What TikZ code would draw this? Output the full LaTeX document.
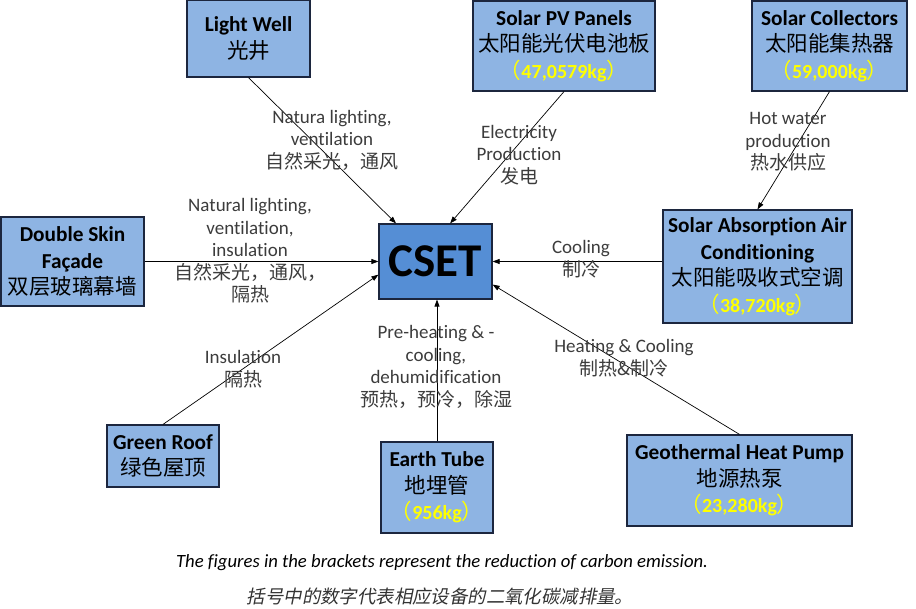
\documentclass[tikz,border=0pt]{standalone}
\usepackage{fontspec}
\setmainfont{Carlito}[Ligatures=NoCommon]
\newfontfamily\cjk{Noto Sans CJK SC}
\newfontfamily\cjkslant{Noto Sans CJK SC}[FakeSlant=0.2]
\usetikzlibrary{arrows.meta}
\definecolor{boxblue}{RGB}{142,180,227}
\definecolor{hubblue}{RGB}{85,142,213}
\definecolor{boxline}{RGB}{28,38,62}
\definecolor{labelgray}{RGB}{60,60,60}
\definecolor{cutyellow}{RGB}{255,255,0}
\newcommand{\zhbox}[1]{{\cjk\fontsize{21.5}{26.5}\selectfont #1}}
\newcommand{\zhlab}[1]{{\cjk\fontsize{19}{22.5}\selectfont #1}}
\newcommand{\reduction}[1]{{\color{cutyellow}\zhbox{（}{\fontsize{20}{26.5}\selectfont\bfseries #1}\zhbox{）}}}
\tikzset{
  techbox/.style={draw=boxline, fill=boxblue, line width=1.2pt, align=center,
    inner sep=0pt, font=\fontsize{21.3}{26.5}\selectfont},
  hubbox/.style={draw=boxline, fill=hubblue, line width=1.2pt, inner sep=0pt,
    font=\fontsize{47}{47}\selectfont\bfseries},
  flowlabel/.style={text=labelgray, align=center, font=\fontsize{19}{22.5}\selectfont},
  flow/.style={-{Triangle[length=7pt,width=5pt]}, line width=0.7pt, black}
}

\begin{document}
\begin{tikzpicture}[x=1pt, y=-1pt]
\useasboundingbox (0,0) rectangle (916,609);
% Centre
\node[hubbox, minimum width=113pt, minimum height=75pt] (cset) at (435.5,261.5) {CSET};
% Technologies
\node[techbox, minimum width=123pt, minimum height=77pt] (lw) at (248.5,38.5)
  {\textbf{Light Well}\\\zhbox{光井}};
\node[techbox, minimum width=182pt, minimum height=90pt] (pv) at (564,46)
  {\textbf{Solar PV Panels}\\\zhbox{太阳能光伏电池板}\\\reduction{47,0579kg}};
\node[techbox, minimum width=155pt, minimum height=90pt] (sc) at (829.5,46)
  {\textbf{Solar Collectors}\\\zhbox{太阳能集热器}\\\reduction{59,000kg}};
\node[techbox, minimum width=143pt, minimum height=89pt] (dsf) at (72.5,261.5)
  {\textbf{Double Skin}\\\textbf{Façade}\\\zhbox{双层玻璃幕墙}};
\node[techbox, minimum width=189pt, minimum height=113pt] (sa) at (757.5,266.5)
  {\textbf{Solar Absorption Air}\\\textbf{Conditioning}\\\zhbox{太阳能吸收式空调}\\\reduction{38,720kg}};
\node[techbox, minimum width=112pt, minimum height=62pt] (gr) at (163,456)
  {\textbf{Green Roof}\\\zhbox{绿色屋顶}};
\node[techbox, minimum width=112pt, minimum height=91pt] (et) at (437,487.5)
  {\textbf{Earth Tube}\\\zhbox{地埋管}\\\reduction{956kg}};
\node[techbox, minimum width=225pt, minimum height=91pt] (gh) at (739.5,480.5)
  {\textbf{Geothermal Heat Pump}\\\zhbox{地源热泵}\\\reduction{23,280kg}};
% Connectors
\foreach \src/\dst in {lw.south/cset.136, pv.south/cset.69, dsf.east/cset.west,
    gr.north/cset.193, gh.north/cset.338}
  \draw[flow] (\src) -- (\dst);
\draw[flow] (sc.south) -- (sa.north);
\draw[flow] (sa.west |- cset.east) -- (cset.east);
\draw[flow] (et.north) -- (et.north |- cset.south);
% Labels
\node[flowlabel] (lwlab) at (332,140) {Natura lighting,\\ventilation\\\zhlab{自然采光，通风}};
\node[flowlabel] (dsflab) at (250,251) {Natural lighting,\\ventilation,\\insulation\\\zhlab{自然采光，通风，}\\\zhlab{隔热}};
\node[flowlabel] (pvlab) at (519,155) {Electricity\\Production\\\zhlab{发电}};
\node[flowlabel] (sclab) at (788,142) {Hot water\\production\\\zhlab{热水供应}};
\node[flowlabel] (salab) at (581,259) {Cooling\\\zhlab{制冷}};
\node[flowlabel] (grlab) at (243,369) {Insulation\\\zhlab{隔热}};
\node[flowlabel] (etlab) at (436,367) {Pre-heating \& -\\cooling,\\dehumidification\\\zhlab{预热，预冷，除湿}};
\node[flowlabel] (ghlab) at (624,358) {Heating \& Cooling\\\zhlab{制热\&制冷}};
% Note
\node[font=\fontsize{18.7}{22}\selectfont\itshape] (note) at (442,563)
  {The figures in the brackets represent the reduction of carbon emission.};
\node[text=black!80] (notezh) at (440,596)
  {{\cjkslant\fontsize{18.4}{22}\selectfont 括号中的数字代表相应设备的二氧化碳减排量。}};
\end{tikzpicture}
\end{document}
